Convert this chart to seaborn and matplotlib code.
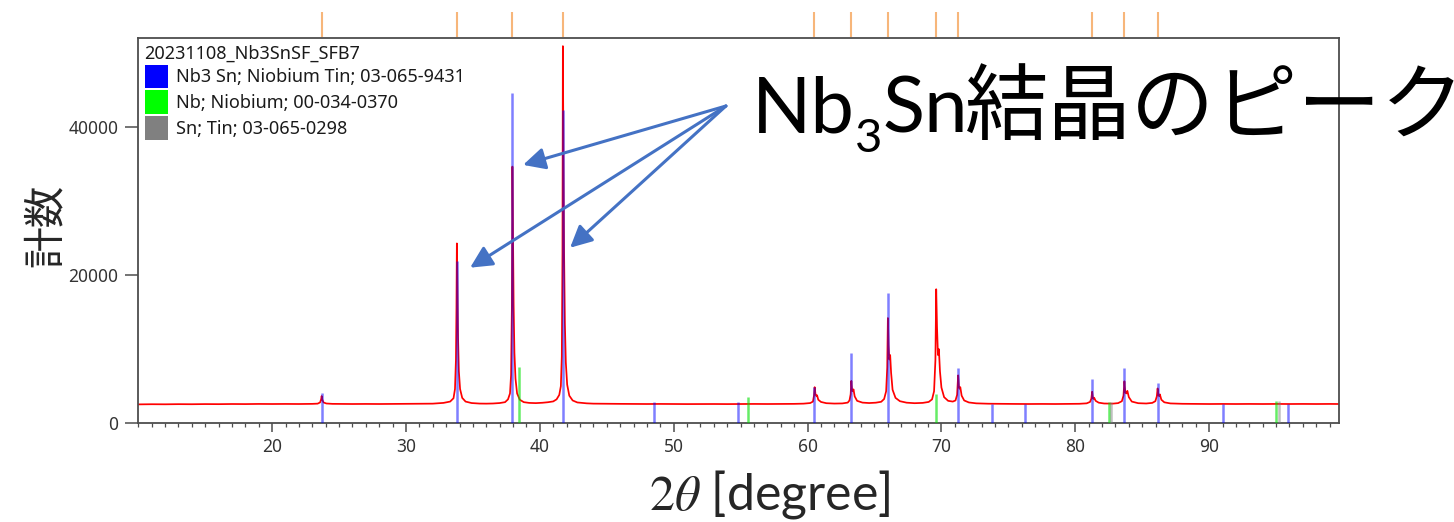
import matplotlib
matplotlib.use("Agg")
import matplotlib.pyplot as plt
from matplotlib.patches import Patch
from matplotlib.ticker import MultipleLocator
import pandas as pd
import seaborn as sns

# ---- measured XRD scan (2theta in degree, counts) ----
two_theta = [
    10.0, 11, 12, 13, 14, 15, 16, 17, 18, 19, 20, 21, 22, 23,
    23.4, 23.58, 23.66, 23.70, 23.75, 23.84, 24.05, 24.5,
    25, 26, 27, 28, 29, 30, 31, 32,
    32.8, 33.3, 33.55, 33.66, 33.73, 33.77, 33.80, 33.84, 33.89, 33.95, 34.04, 34.2, 34.45, 34.9,
    35.5, 36, 36.5, 37.0,
    37.4, 37.62, 37.77, 37.85, 37.91, 37.95, 37.99, 38.04, 38.1, 38.18, 38.3, 38.5, 38.8,
    39.2, 39.7, 40.2, 40.6, 41.0,
    41.25, 41.45, 41.57, 41.64, 41.69, 41.72, 41.76, 41.81, 41.87, 41.94, 42.04, 42.2, 42.45, 42.8,
    43.5, 44, 45, 46, 47, 48, 49, 50, 51, 52, 53, 54, 55, 56, 57, 58, 59, 59.7,
    60.2, 60.4, 60.48, 60.53, 60.59, 60.66, 60.71, 60.8, 61.0, 61.4,
    62, 62.6, 63.0, 63.13, 63.22, 63.27, 63.33, 63.38, 63.43, 63.52, 63.7, 64.1,
    64.6, 65.1, 65.5, 65.72, 65.87, 65.95, 66.0, 66.05, 66.11, 66.17, 66.24, 66.35, 66.57, 66.9, 67.4,
    68, 68.6, 69.05, 69.3, 69.45, 69.55, 69.61, 69.67, 69.74, 69.81, 69.89, 70.0, 70.2, 70.5, 70.85,
    71.05, 71.17, 71.25, 71.31, 71.36, 71.41, 71.51, 71.7, 72.05, 72.6,
    73.5, 74.5, 75.5, 76.5, 77.5, 78.5, 79.5, 80.3,
    80.85, 81.1, 81.2, 81.26, 81.32, 81.36, 81.41, 81.52, 81.75, 82.15,
    82.8, 83.2, 83.48, 83.6, 83.67, 83.74, 83.82, 83.89, 84.0, 84.22, 84.7,
    85.3, 85.75, 85.98, 86.09, 86.15, 86.21, 86.26, 86.32, 86.43, 86.65, 87.1,
    88, 89, 90, 91, 92, 93, 94, 95, 96, 97, 98, 99, 99.7,
]
counts = [
    2520, 2540, 2530, 2550, 2540, 2560, 2550, 2570, 2560, 2580, 2570, 2580, 2570, 2590,
    2620, 2780, 3200, 3650, 3150, 2780, 2640, 2590,
    2580, 2570, 2580, 2570, 2580, 2590, 2590, 2620,
    2720, 2900, 3350, 4600, 8500, 15500, 24300, 18500, 11500, 7000, 4600, 3400, 2900, 2700,
    2630, 2620, 2640, 2700,
    2820, 3200, 4000, 6500, 15500, 34700, 26500, 16000, 9500, 6000, 4000, 3150, 2820,
    2720, 2690, 2740, 2810, 2920,
    3200, 3800, 5000, 9000, 23000, 51000, 37000, 23000, 13500, 8200, 5200, 3700, 3050, 2780,
    2660, 2620, 2600, 2590, 2580, 2570, 2580, 2570, 2560, 2570, 2570, 2560, 2570, 2580, 2570, 2580, 2590, 2620,
    2700, 2900, 3700, 4850, 3900, 3650, 3750, 3150, 2850, 2680,
    2630, 2650, 2760, 3050, 3900, 5700, 4400, 4300, 4550, 3600, 3000, 2760,
    2700, 2750, 2870, 3250, 4300, 7500, 14200, 10500, 8600, 9200, 6800, 4500, 3400, 2950, 2750,
    2680, 2720, 2850, 3200, 4300, 8500, 18100, 13000, 9200, 10000, 7000, 4800, 3500, 3000, 2900,
    3050, 3800, 6450, 4900, 4650, 4850, 3700, 3050, 2780, 2660,
    2610, 2590, 2580, 2570, 2580, 2570, 2580, 2600,
    2660, 2850, 3300, 4230, 3350, 3250, 3420, 3000, 2750, 2640,
    2620, 2690, 2950, 3700, 5650, 4100, 4000, 4350, 3500, 2900, 2680,
    2640, 2720, 2950, 3600, 4680, 3750, 3650, 3870, 3150, 2800, 2650,
    2600, 2580, 2570, 2580, 2570, 2580, 2570, 2580, 2570, 2580, 2570, 2580, 2570,
]

# ---- reference patterns (stick positions and intensities) ----
nb3sn_pos = [23.7, 33.8, 37.95, 41.72, 48.55, 54.8, 60.5, 63.27, 66.0, 71.25, 73.8, 76.25,
             81.26, 83.67, 86.15, 91.0, 95.9]
nb3sn_int = [4000, 21900, 44700, 42400, 2780, 2800, 4860, 9460, 17660, 7470, 2620, 2620,
             5940, 7390, 5360, 2600, 2600]
nb_pos = [38.45, 55.55, 69.62, 82.5, 95.0]
nb_int = [7600, 3550, 3920, 2880, 3010]
sn_pos = [82.65, 95.25]
sn_int = [2900, 3000]

# peak-search markers above the frame
peak_marks = [23.7, 33.8, 37.95, 41.72, 60.5, 63.27, 66.0, 69.61, 71.25, 81.26, 83.67, 86.15]

scan_name = "20231108_Nb3SnSF_SFB7"
phase_labels = ["Nb3 Sn; Niobium Tin; 03-065-9431",
                "Nb; Niobium; 00-034-0370",
                "Sn; Tin; 03-065-0298"]
phase_colors = ["#0000ff", "#00ff00", "#808080"]

x_ticks = [20, 30, 40, 50, 60, 70, 80, 90]
y_ticks = [0, 20000, 40000]

sns.set_theme(style="ticks")
plt.rcParams["font.family"] = ["Noto Sans", "Noto Sans CJK JP", "DejaVu Sans"]
plt.rcParams["mathtext.fontset"] = "stix"

fig = plt.figure(figsize=(14.54, 5.22), dpi=100)
ax = fig.add_axes([0.0951, 0.18966, 0.8258, 0.7375])

scan = pd.DataFrame({"two_theta": two_theta, "counts": counts})
sns.lineplot(data=scan, x="two_theta", y="counts", color="#ff0000", lw=1.25,
             ax=ax, zorder=2)

ax.vlines(nb3sn_pos, 0, nb3sn_int, colors="#0000ff", alpha=0.5, lw=1.8, zorder=3)
ax.vlines(nb_pos, 0, nb_int, colors="#00e000", alpha=0.6, lw=1.8, zorder=3)
ax.vlines(sn_pos, 0, sn_int, colors="#808080", alpha=0.5, lw=1.8, zorder=3)

ax.vlines(peak_marks, 1.003, 1.068, transform=ax.get_xaxis_transform(),
          colors="#f7b67a", lw=1.5, clip_on=False)

ax.set_xlim(10, 99.7)
ax.set_ylim(0, 52100)
ax.set_xticks(x_ticks)
ax.xaxis.set_minor_locator(MultipleLocator(1))
ax.set_yticks(y_ticks)
ax.set_yticklabels([str(v) for v in y_ticks])

ax.tick_params(axis="x", which="major", length=6.5, width=1.1, color="#4d4d4d",
               labelsize=12.5, labelcolor="#333333", pad=4)
ax.tick_params(axis="x", which="minor", length=3.2, width=0.9, color="#4d4d4d")
ax.tick_params(axis="y", length=9.4, width=1.1, color="#4d4d4d",
               labelsize=12.5, labelcolor="#333333", pad=5)
for s in ax.spines.values():
    s.set_color("#4d4d4d")
    s.set_linewidth(1.3)
    s.set_visible(True)

handles = [Patch(facecolor=c, edgecolor="none") for c in phase_colors]
leg = ax.legend(handles, phase_labels, title=scan_name, loc="upper left",
                bbox_to_anchor=(0, 1), borderaxespad=0, borderpad=0.35,
                frameon=False, fontsize=13, title_fontsize=13,
                handlelength=1.3, handleheight=1.65, handletextpad=0.45,
                labelspacing=0.12, alignment="left")
for txt in leg.get_texts():
    txt.set_color("#1a1a1a")
leg.get_title().set_color("#1a1a1a")

ax.set_xlabel("$2\\theta$ [degree]", fontsize=36, family=["Lato", "DejaVu Sans"],
              va="center")
ax.xaxis.set_label_coords(0.526, -0.185)
ax.set_ylabel("計数", fontsize=30, family=["Noto Sans CJK JP", "DejaVu Sans"],
              va="center")
ax.yaxis.set_label_coords(-0.0769, 0.514)

# callout naming the Nb3Sn reflections
arrow_kw = dict(arrowstyle="-|>,head_length=0.6,head_width=0.3", color="#4472c4",
                lw=2.2, mutation_scale=22, shrinkA=0, shrinkB=0)
for tip in [(38.75, 34930), (34.79, 21020), (42.26, 23720)]:
    ax.annotate("", xy=tip, xytext=(53.9, 42900), arrowprops=arrow_kw, zorder=5)

base_y = 1 - 133 / 522
t1 = fig.text(752 / 1454, base_y, "Nb", fontsize=56, family=["Lato"],
              va="baseline", ha="left", color="black")
t2 = ax.annotate("3", xy=(1, base_y), xycoords=(t1, "figure fraction"),
                 xytext=(0, -13.7), textcoords="offset points", fontsize=34,
                 family=["Lato"], va="baseline", ha="left", color="black")
t3 = ax.annotate("Sn", xy=(1, base_y), xycoords=(t2, "figure fraction"),
                 xytext=(0, 0), textcoords="offset points", fontsize=56,
                 family=["Lato"], va="baseline", ha="left", color="black")
t4 = ax.annotate("結晶のピーク", xy=(1, base_y), xycoords=(t3, "figure fraction"),
                 xytext=(-2, 0), textcoords="offset points", fontsize=60,
                 family=["Noto Sans CJK JP"], va="baseline", ha="left", color="black")

fig.savefig("out.png", dpi=100)
